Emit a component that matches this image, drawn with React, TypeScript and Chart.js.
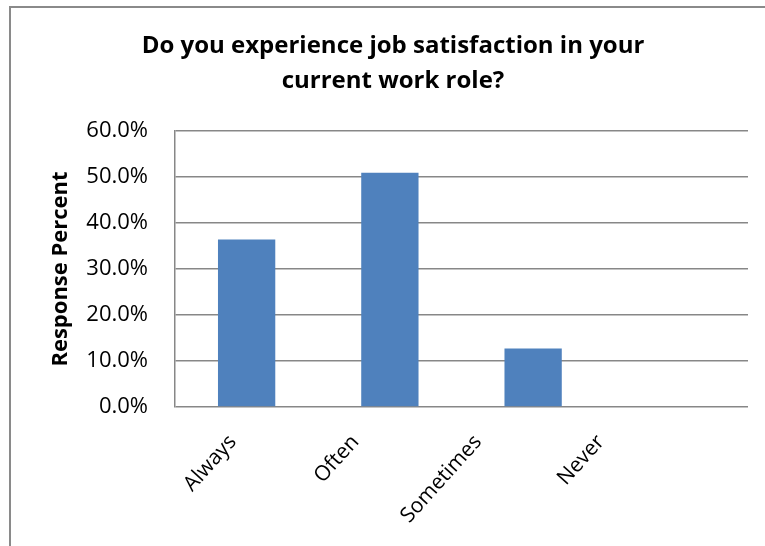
import React, { useEffect, useRef } from 'react';
import { Chart, registerables } from 'chart.js';

Chart.register(...registerables);

const categories = ['Always', 'Often', 'Sometimes', 'Never'];
const responsePercent = [36.4, 50.9, 12.7, 0.0];
const yTicks = [0, 10, 20, 30, 40, 50, 60];
const titleLines = ['Do you experience job satisfaction in your', 'current work role?'];
const yAxisTitle = 'Response Percent';

const FONT = "'Open Sans', sans-serif";
const GRID = '#878787';

const framePlugin = {
  id: 'frame',
  beforeDraw(chart: any) {
    const ctx = chart.ctx;
    ctx.save();
    ctx.fillStyle = '#ffffff';
    ctx.fillRect(0, 0, chart.width, chart.height);
    ctx.strokeStyle = '#8a8a8a';
    ctx.lineWidth = 2;
    ctx.beginPath();
    ctx.moveTo(10, chart.height);
    ctx.lineTo(10, 7);
    ctx.lineTo(chart.width, 7);
    ctx.stroke();
    ctx.restore();
  },
};

export default function App() {
  const ref = useRef<HTMLCanvasElement | null>(null);

  useEffect(() => {
    if (!ref.current) return;
    const chart = new Chart(ref.current, {
      type: 'bar',
      data: {
        labels: categories,
        datasets: [
          {
            data: responsePercent,
            backgroundColor: '#4F81BD',
            borderWidth: 0,
            barPercentage: 0.4,
            categoryPercentage: 1,
          },
        ],
      },
      options: {
        responsive: false,
        animation: false,
        layout: { padding: { left: 10, top: 0, right: 0, bottom: 0 } },
        plugins: {
          legend: { display: false },
          tooltip: { enabled: false },
          title: {
            display: true,
            text: titleLines,
            color: '#000',
            font: { family: FONT, size: 24, weight: 'bold', lineHeight: 1.458 },
            padding: { top: 29, bottom: 32 },
          },
        },
        scales: {
          x: { display: false, grid: { display: false } },
          x2: {
            type: 'linear',
            position: 'bottom',
            offset: false,
            min: -0.47,
            max: 4.2,
            afterBuildTicks: (s: any) => {
              s.ticks = categories.map((_, i) => ({ value: i }));
            },
            afterFit: (s: any) => {
              s.height = 139;
            },
            grid: { display: false, offset: false },
            border: { display: false },
            ticks: {
              autoSkip: false,
              minRotation: 48,
              maxRotation: 48,
              padding: 15,
              color: '#000',
              font: { family: FONT, size: 21 },
              callback: (v: any) => categories[v] ?? '',
            },
          },
          y: {
            type: 'linear',
            min: 0,
            max: 60,
            afterBuildTicks: (s: any) => {
              s.ticks = yTicks.map((v) => ({ value: v }));
            },
            afterFit: (s: any) => {
              s.width = 165;
            },
            grid: { color: GRID, lineWidth: 1.5, drawTicks: false },
            border: { color: GRID, width: 1.5 },
            ticks: {
              padding: 27,
              color: '#000',
              font: { family: FONT, size: 22 },
              callback: (v: any) => Number(v).toFixed(1) + '%',
            },
            title: {
              display: true,
              text: yAxisTitle,
              color: '#000',
              font: { family: FONT, size: 22, weight: 'bold' },
              padding: { top: 37.8, bottom: 0 },
            },
          },
          y2: {
            type: 'linear',
            position: 'right',
            display: true,
            grid: { display: false },
            border: { display: false },
            ticks: { display: false },
            afterFit: (s: any) => {
              s.width = 28;
            },
          },
        },
      } as any,
      plugins: [framePlugin],
    });
    return () => chart.destroy();
  }, []);

  return (
    <div
      style={{
        position: 'fixed',
        left: 0,
        top: 0,
        width: 765,
        height: 546,
        overflow: 'hidden',
        background: '#fff',
      }}
    >
      <canvas ref={ref} width={776} height={546} style={{ display: 'block' }} />
    </div>
  );
}
